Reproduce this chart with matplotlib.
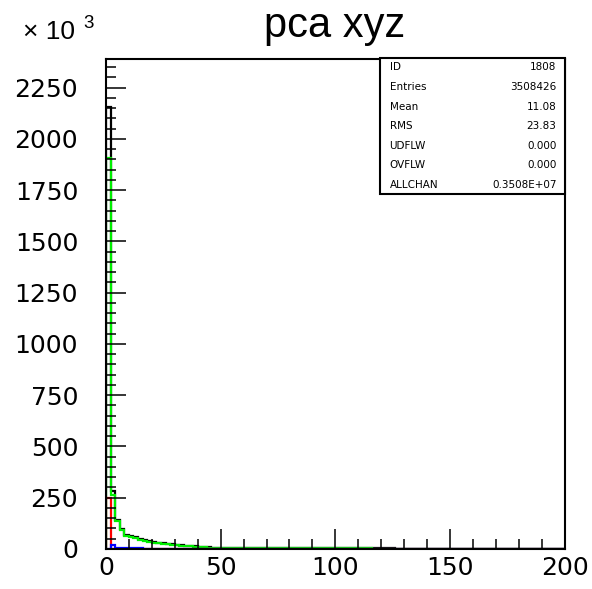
import matplotlib
matplotlib.use("Agg")
import matplotlib.pyplot as plt
import numpy as np
from matplotlib.patches import Rectangle
from matplotlib.ticker import MultipleLocator

plt.rcParams["font.family"] = ["DejaVu Sans"]

# bin edges: 100 bins of width 2 over 0..200
edges = np.arange(0, 202, 2)

# bin contents in units of 10^3 (zero beyond the listed bins)
green_vals = [1907, 263, 135, 90, 65, 58, 52, 45, 40, 36,
              30, 28, 25, 22, 20, 18, 15, 13, 12, 10,
              8, 8, 7, 7, 7, 6, 6, 6, 6, 5,
              5, 5, 5, 5, 5, 5, 4, 4, 4, 4,
              4, 4, 4, 4, 4, 3, 3, 3, 3, 3,
              3, 3, 3, 3, 3, 3, 3, 3, 2, 2,
              2, 2]
red_vals = [249]
blue_vals = [2, 18, 3, 3, 4, 4, 4, 3]
black_vals = [2156, 283, 140, 95, 70, 63, 57, 49, 42, 38,
              32, 30, 27, 24, 22, 19, 17, 15, 14, 13,
              9, 8, 8, 7, 7, 7, 6, 6, 6, 6,
              5, 5, 5, 5, 5, 5, 5, 5, 4, 4,
              4, 4, 4, 4, 4, 4, 4, 3, 3, 3,
              3, 3, 3, 3, 3, 3, 3, 3, 3, 3,
              3, 3, 3]

stat_names = ["ID", "Entries", "Mean", "RMS", "UDFLW", "OVFLW", "ALLCHAN"]
stat_values = ["1808", "3508426", "11.08", "23.83", "0.000", "0.000", "0.3508E+07"]


def padded(vals):
    out = np.zeros(len(edges) - 1)
    out[:len(vals)] = vals
    return out


fig = plt.figure(figsize=(5.92, 5.89), dpi=100)
ax = fig.add_axes([0.179, 0.068, 0.775, 0.832])

ax.stairs(padded(black_vals), edges, color="black", linewidth=1.6)
ax.stairs(padded(green_vals), edges, color="#00ee00", linewidth=1.6)
ax.stairs(padded(red_vals), edges, color="#ff0000", linewidth=1.6)
ax.stairs(padded(blue_vals), edges, color="#0000ff", linewidth=1.6)

ax.set_xlim(0, 200)
ax.set_ylim(0, 2390)
ax.xaxis.set_major_locator(MultipleLocator(50))
ax.xaxis.set_minor_locator(MultipleLocator(10))
ax.yaxis.set_major_locator(MultipleLocator(250))
ax.yaxis.set_minor_locator(MultipleLocator(50))
ax.tick_params(which="both", direction="in", top=False, right=False, width=1.1)
ax.tick_params(which="major", length=14.5)
ax.tick_params(which="minor", length=7.5)
ax.tick_params(axis="y", which="major", pad=20, labelsize=18)
ax.tick_params(axis="x", which="major", pad=5, labelsize=18)
for sp in ax.spines.values():
    sp.set_linewidth(1.5)

fig.text(0.566, 0.937, "pca xyz", ha="center", va="baseline", fontsize=30,
         family=["Liberation Sans"])
fig.text(0.039, 0.934, "\u00d7 10", ha="left", va="baseline", fontsize=19,
         family=["Liberation Sans"])
fig.text(0.141, 0.952, "3", ha="left", va="baseline", fontsize=13.5,
         family=["Liberation Sans"])

# statistics box in the top-right corner
bx0, by0, bx1, by1 = 0.642, 0.670, 0.954, 0.902
fig.patches.append(Rectangle((bx0, by0), bx1 - bx0, by1 - by0, transform=fig.transFigure,
                             facecolor="white", edgecolor="black", linewidth=1.5, zorder=5))
row_h = (by1 - by0) / len(stat_names)
for i, (name, val) in enumerate(zip(stat_names, stat_values)):
    y = by1 - row_h * (i + 0.5)
    fig.text(bx0 + 0.016, y, name, ha="left", va="center", fontsize=7.5, zorder=6)
    fig.text(bx1 - 0.014, y, val, ha="right", va="center", fontsize=7.5, zorder=6)

fig.savefig("out.png", dpi=100)
